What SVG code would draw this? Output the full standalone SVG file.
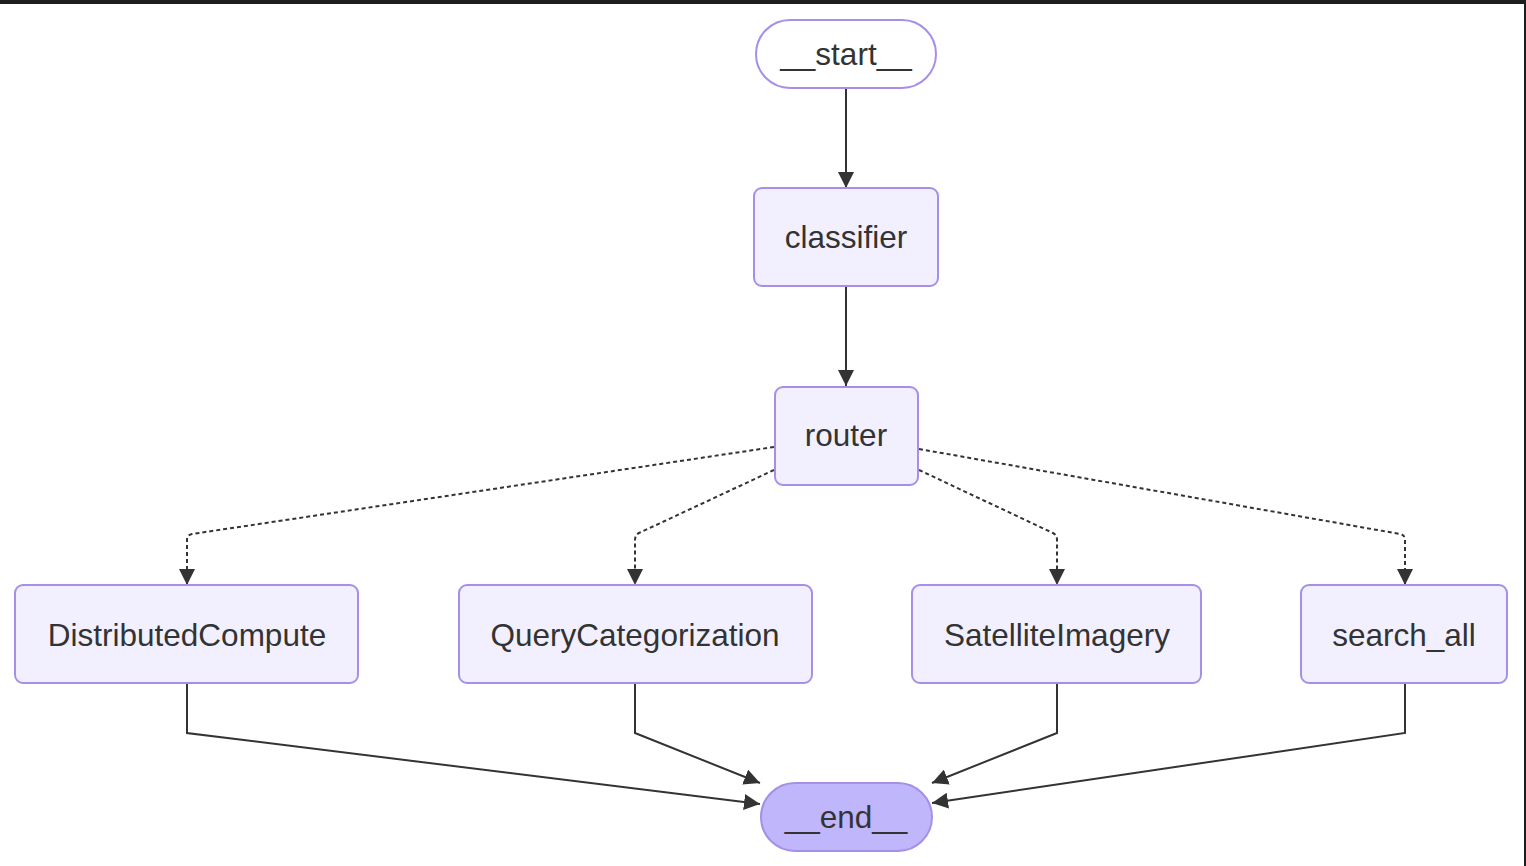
<svg xmlns="http://www.w3.org/2000/svg" width="1526" height="866" viewBox="0 0 1526 866">
<defs>
<marker id="arr" viewBox="0 0 10 10" refX="10" refY="5" markerWidth="16" markerHeight="16" markerUnits="userSpaceOnUse" orient="auto">
<path d="M0,0 L10,5 L0,10 z" fill="#333"/>
</marker>
</defs>
<style>
.node rect{fill:#f2f0ff;stroke:#a68fe6;stroke-width:2}
.node.first rect{fill:#fff}
.node.last rect{fill:#bfb6fc}
.node text{font-family:"Liberation Sans",Arial,sans-serif;font-size:31.5px;fill:#333;text-anchor:middle}
.edge{fill:none;stroke:#333;stroke-width:2;marker-end:url(#arr)}
.dotted{stroke-dasharray:4 3}
</style>
<rect x="0" y="0" width="1526" height="866" fill="#1e1e1e"/>
<rect x="0" y="4" width="1524" height="862" fill="#fff"/>
<g id="edges">
<path class="edge" d="M846,89 L846,188"/>
<path class="edge" d="M846,286 L846,386"/>
<path class="edge dotted" d="M774,447 L192,534 Q187,535 187,540 L187,585"/>
<path class="edge dotted" d="M774,470 L639,533 Q635,535 635,540 L635,585"/>
<path class="edge dotted" d="M919,470 L1053,533 Q1057,535 1057,540 L1057,585"/>
<path class="edge dotted" d="M919,449 L1400,534 Q1405,535 1405,540 L1405,585"/>
<path class="edge" d="M187,683 L187,733 L760,804"/>
<path class="edge" d="M635,683 L635,733 L760,783"/>
<path class="edge" d="M1057,683 L1057,733 L932,783"/>
<path class="edge" d="M1405,683 L1405,733 L932,803"/>
</g>
<g id="start" class="node first"><rect x="756" y="20" width="180" height="68" rx="34"/><text x="846" y="65">__start__</text></g>
<g id="classifier" class="node"><rect x="754" y="188" width="184" height="98" rx="8"/><text x="846" y="248">classifier</text></g>
<g id="router" class="node"><rect x="775" y="387" width="143" height="98" rx="8"/><text x="846" y="446">router</text></g>
<g id="DistributedCompute" class="node"><rect x="15" y="585" width="343" height="98" rx="8"/><text x="187" y="646">DistributedCompute</text></g>
<g id="QueryCategorization" class="node"><rect x="459" y="585" width="353" height="98" rx="8"/><text x="635" y="646">QueryCategorization</text></g>
<g id="SatelliteImagery" class="node"><rect x="912" y="585" width="289" height="98" rx="8"/><text x="1057" y="646">SatelliteImagery</text></g>
<g id="search_all" class="node"><rect x="1301" y="585" width="206" height="98" rx="8"/><text x="1404" y="646">search_all</text></g>
<g id="end" class="node last"><rect x="761" y="783" width="171" height="68" rx="34"/><text x="846" y="828">__end__</text></g>
</svg>
